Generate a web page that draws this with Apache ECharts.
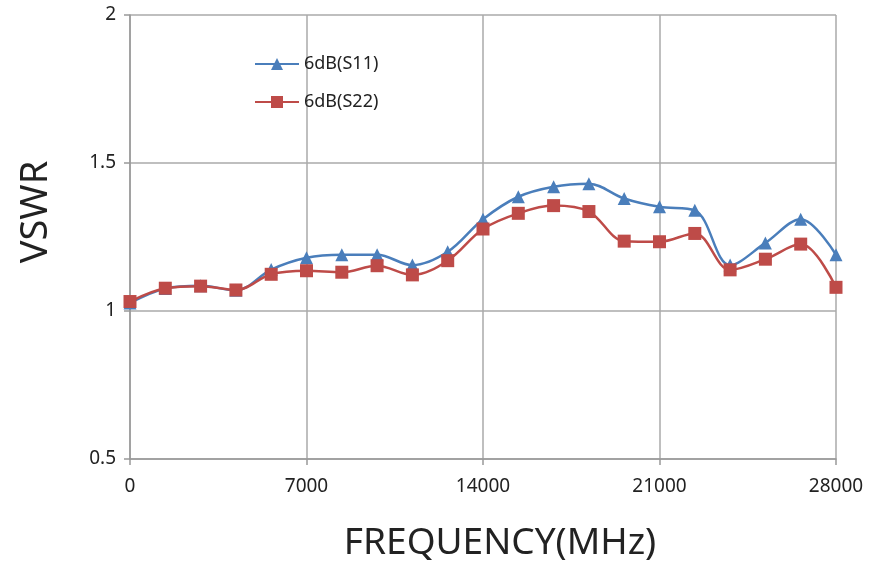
<!DOCTYPE html>
<html>
<head>
<meta charset="utf-8">
<script src="https://cdn.jsdelivr.net/npm/echarts@6/dist/echarts.min.js"></script>
<style>
html,body{margin:0;padding:0;background:#fff;}
#c{width:869px;height:564px;}
</style>
</head>
<body>
<div id="c"></div>
<script>
const freqs = [0,1400,2800,4200,5600,7000,8400,9800,11200,12600,14000,15400,16800,18200,19600,21000,22400,23800,25200,26600,28000];
const s11 = [1.027,1.076,1.085,1.07,1.14,1.18,1.19,1.19,1.155,1.2,1.31,1.386,1.42,1.43,1.38,1.352,1.34,1.155,1.23,1.31,1.19];
const s22 = [1.032,1.077,1.084,1.071,1.124,1.136,1.131,1.153,1.122,1.17,1.277,1.33,1.356,1.336,1.236,1.234,1.262,1.139,1.175,1.226,1.08];
const xTicks = [0,7000,14000,21000,28000];
const yTicks = [0.5,1,1.5,2];
const seriesNames = ['6dB(S11)','6dB(S22)'];

const font = '"Noto Sans", "Open Sans", sans-serif';
const chart = echarts.init(document.getElementById('c'));
const pair = arr => freqs.map((f,i)=>[f,arr[i]]);
chart.setOption({
  animation:false,
  backgroundColor:'#fff',
  grid:{left:130,right:33,top:15,bottom:105},
  legend:{
    orient:'vertical',
    left:249, top:50,
    itemWidth:44, itemHeight:15, itemGap:20,
    textStyle:{fontSize:18,color:'#222',fontFamily:font},
    data:seriesNames
  },
  xAxis:{
    type:'value', min:xTicks[0], max:xTicks[xTicks.length-1], interval:7000,
    axisLine:{show:true,lineStyle:{color:'#999',width:1.5}},
    axisTick:{show:true,length:6,lineStyle:{color:'#999',width:1.5}},
    splitLine:{show:true,lineStyle:{color:'#aaa',width:1.5}},
    axisLabel:{fontSize:19,color:'#222',margin:18,fontFamily:font,formatter:v=>String(v)}
  },
  yAxis:{
    type:'value', min:yTicks[0], max:yTicks[yTicks.length-1], interval:0.5,
    axisLine:{show:true,lineStyle:{color:'#999',width:1.5}},
    axisTick:{show:true,length:6,lineStyle:{color:'#999',width:1.5}},
    splitLine:{show:true,lineStyle:{color:'#aaa',width:1.5}},
    axisLabel:{fontSize:19,color:'#222',margin:14,fontFamily:font,formatter:v=>String(v)}
  },
  graphic:[
    {type:'text',x:36,y:212,rotation:Math.PI/2,
     style:{text:'VSWR',fontSize:38,fill:'#222',fontFamily:font,align:'center',verticalAlign:'middle'}},
    {type:'text',x:500,y:543,
     style:{text:'FREQUENCY(MHz)',fontSize:37,fill:'#222',fontFamily:font,align:'center',verticalAlign:'middle'}}
  ],
  series:[
    {name:seriesNames[0],type:'line',smooth:0.35,data:pair(s11),
     symbol:'triangle',symbolSize:13,
     lineStyle:{color:'#4a7ebb',width:2.5},itemStyle:{color:'#4a7ebb'}},
    {name:seriesNames[1],type:'line',smooth:0.35,data:pair(s22),
     symbol:'rect',symbolSize:13,
     lineStyle:{color:'#be4b48',width:2.5},itemStyle:{color:'#be4b48'}}
  ]
});
</script>
</body>
</html>
